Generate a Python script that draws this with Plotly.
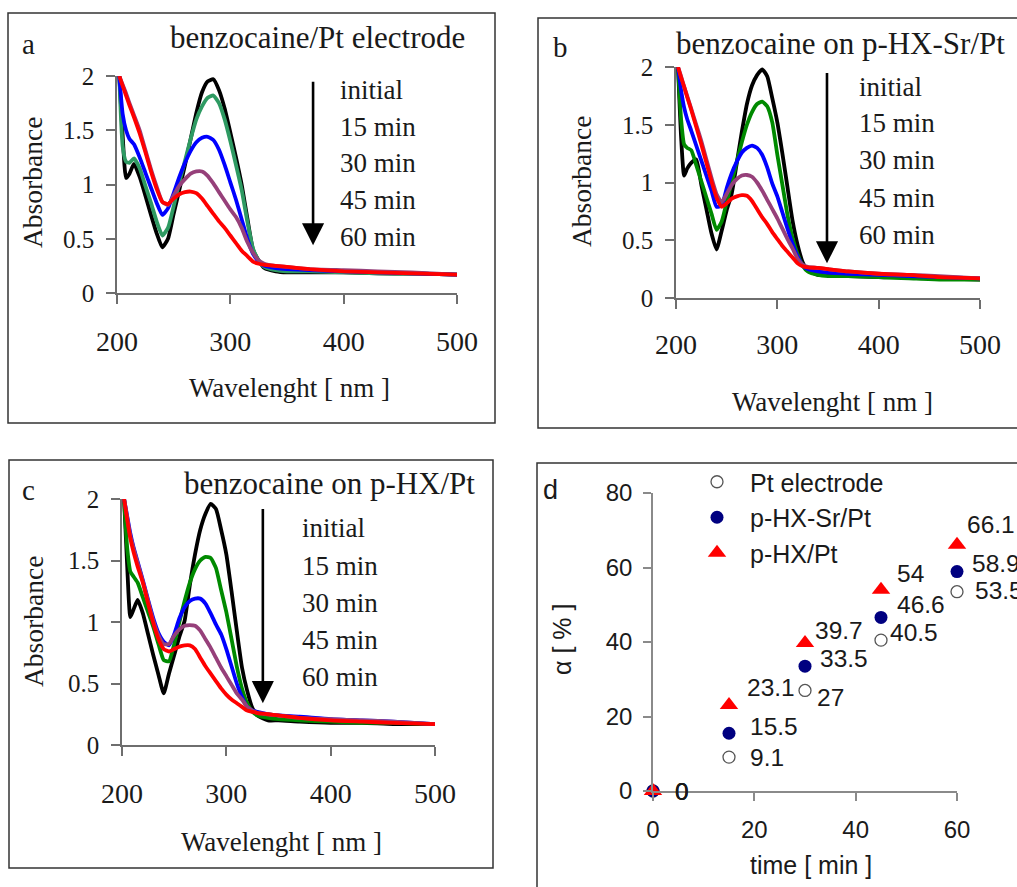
import plotly.graph_objects as go

W, H = 1017, 887

# ---------------- data ----------------
wavelength = [202, 205, 208, 211, 215, 220, 225, 230, 235, 240, 245, 250, 255, 260, 265, 270, 275, 280,
              285, 290, 295, 300, 305, 310, 315, 320, 325, 330, 340, 350, 370, 400, 430, 460, 500]
series_names = ["initial", "15 min", "30 min", "45 min", "60 min"]

a_initial = [2.0, 1.45, 1.06, 1.1, 1.19, 1.07, 0.9, 0.72, 0.55, 0.42, 0.5, 0.73, 0.95, 1.18, 1.42, 1.66, 1.85, 1.95,
             1.97, 1.87, 1.7, 1.48, 1.25, 1.0, 0.69, 0.4, 0.3, 0.23, 0.2, 0.19, 0.19, 0.19, 0.18, 0.18, 0.17]
a_15 = [2.0, 1.35, 1.21, 1.2, 1.24, 1.15, 0.99, 0.83, 0.66, 0.53, 0.6, 0.8, 1.02, 1.22, 1.42, 1.6, 1.72, 1.8,
        1.82, 1.75, 1.6, 1.4, 1.18, 0.95, 0.66, 0.41, 0.3, 0.24, 0.21, 0.2, 0.2, 0.19, 0.18, 0.18, 0.17]
a_30 = [2.0, 1.65, 1.5, 1.42, 1.37, 1.25, 1.11, 0.97, 0.83, 0.72, 0.78, 0.92, 1.07, 1.2, 1.31, 1.39, 1.43, 1.44,
        1.41, 1.32, 1.18, 1.02, 0.86, 0.68, 0.5, 0.36, 0.29, 0.25, 0.23, 0.22, 0.21, 0.2, 0.19, 0.18, 0.17]
a_45 = [2.0, 1.92, 1.84, 1.75, 1.64, 1.5, 1.32, 1.14, 0.98, 0.84, 0.81, 0.9, 0.99, 1.05, 1.1, 1.12, 1.12, 1.08,
        1.01, 0.93, 0.85, 0.77, 0.7, 0.6, 0.47, 0.37, 0.3, 0.27, 0.25, 0.24, 0.22, 0.21, 0.2, 0.19, 0.17]
a_60 = [2.0, 1.91, 1.82, 1.73, 1.62, 1.47, 1.3, 1.12, 0.96, 0.84, 0.82, 0.87, 0.91, 0.93, 0.935, 0.92, 0.87, 0.8,
        0.73, 0.66, 0.6, 0.53, 0.46, 0.39, 0.34, 0.29, 0.27, 0.26, 0.25, 0.24, 0.22, 0.2, 0.19, 0.18, 0.17]

b_initial = [2.0, 1.4, 1.06, 1.12, 1.17, 1.2, 0.98, 0.77, 0.56, 0.42, 0.58, 0.76, 0.905, 1.17, 1.44, 1.68, 1.84, 1.93,
             1.98, 1.92, 1.73, 1.52, 1.25, 0.96, 0.67, 0.46, 0.31, 0.24, 0.2, 0.2, 0.19, 0.18, 0.18, 0.17, 0.16]
b_15 = [2.0, 1.55, 1.33, 1.3, 1.28, 1.15, 1.01, 0.87, 0.73, 0.59, 0.66, 0.83, 1.0, 1.18, 1.35, 1.5, 1.61, 1.68,
        1.7, 1.66, 1.52, 1.24, 0.98, 0.72, 0.52, 0.38, 0.28, 0.23, 0.2, 0.19, 0.19, 0.18, 0.17, 0.16, 0.16]
b_30 = [2.0, 1.8, 1.65, 1.55, 1.45, 1.32, 1.19, 1.06, 0.93, 0.79, 0.8, 0.95, 1.08, 1.18, 1.26, 1.3, 1.32, 1.3,
        1.24, 1.13, 0.99, 0.88, 0.74, 0.6, 0.47, 0.36, 0.28, 0.25, 0.23, 0.22, 0.21, 0.2, 0.19, 0.18, 0.17]
b_45 = [2.0, 1.92, 1.83, 1.75, 1.64, 1.5, 1.36, 1.2, 1.04, 0.9, 0.83, 0.9, 0.98, 1.03, 1.06, 1.065, 1.05, 1.0,
        0.93, 0.85, 0.77, 0.69, 0.6, 0.51, 0.43, 0.34, 0.29, 0.27, 0.26, 0.25, 0.23, 0.21, 0.2, 0.19, 0.17]
b_60 = [2.0, 1.91, 1.83, 1.74, 1.63, 1.48, 1.33, 1.17, 1.01, 0.87, 0.79, 0.82, 0.86, 0.88, 0.89, 0.885, 0.84, 0.77,
        0.7, 0.64, 0.57, 0.51, 0.45, 0.4, 0.35, 0.3, 0.275, 0.265, 0.26, 0.25, 0.23, 0.21, 0.2, 0.18, 0.17]

c_initial = [2.0, 1.45, 1.04, 1.1, 1.18, 1.07, 0.9, 0.73, 0.57, 0.42, 0.58, 0.73, 0.88, 1.01, 1.3, 1.55, 1.75, 1.88,
             1.96, 1.92, 1.75, 1.55, 1.25, 0.93, 0.63, 0.44, 0.3, 0.24, 0.2, 0.2, 0.19, 0.18, 0.18, 0.17, 0.17]
c_15 = [2.0, 1.6, 1.41, 1.37, 1.32, 1.2, 1.08, 0.96, 0.82, 0.69, 0.68, 0.82, 1.0, 1.17, 1.32, 1.43, 1.5, 1.53,
        1.52, 1.44, 1.26, 1.08, 0.86, 0.64, 0.46, 0.34, 0.27, 0.24, 0.22, 0.21, 0.2, 0.19, 0.18, 0.18, 0.17]
c_30 = [2.0, 1.86, 1.72, 1.61, 1.49, 1.34, 1.18, 1.03, 0.91, 0.84, 0.81, 0.9, 1.03, 1.12, 1.17, 1.19, 1.19, 1.15,
        1.07, 0.98, 0.9, 0.78, 0.64, 0.5, 0.39, 0.31, 0.28, 0.27, 0.25, 0.24, 0.23, 0.21, 0.2, 0.19, 0.17]
c_45 = [2.0, 1.85, 1.7, 1.6, 1.48, 1.33, 1.17, 1.01, 0.89, 0.82, 0.82, 0.89, 0.94, 0.97, 0.975, 0.97, 0.93, 0.86,
        0.79, 0.71, 0.63, 0.56, 0.49, 0.42, 0.37, 0.31, 0.28, 0.26, 0.25, 0.24, 0.22, 0.21, 0.2, 0.19, 0.17]
c_60 = [2.0, 1.83, 1.68, 1.57, 1.45, 1.32, 1.15, 0.99, 0.86, 0.78, 0.76, 0.78, 0.8, 0.81, 0.81, 0.78, 0.71, 0.64,
        0.58, 0.52, 0.46, 0.41, 0.37, 0.34, 0.31, 0.28, 0.27, 0.26, 0.25, 0.24, 0.22, 0.2, 0.19, 0.18, 0.17]

times = [0, 15, 30, 45, 60]
alpha_pt = [0, 9.1, 27, 40.5, 53.5]
alpha_hxsr = [0, 15.5, 33.5, 46.6, 58.9]
alpha_hx = [0, 23.1, 39.7, 54, 66.1]
d_series_names = ["Pt electrode", "p-HX-Sr/Pt", "p-HX/Pt"]

x_ticks_spec = [200, 300, 400, 500]
y_ticks_spec = [0, 0.5, 1, 1.5, 2]
y_ticktext_spec = ["0", "0.5", "1", "1.5", "2"]
x_ticks_d = [0, 20, 40, 60]
y_ticks_d = [0, 20, 40, 60, 80]

# ---------------- styling ----------------
SERIF = "Liberation Serif"
SANS = "Liberation Sans"
AXCOL = "#6e6e6e"
TXT = "#1a1a1a"


def px(x):
    return x / W


def py(y):
    return 1 - y / H


fig = go.Figure()

panels = [
    ("x", "y", [a_initial, a_15, a_30, a_45, a_60],
     ["#000000", "#2e9a62", "#0000ff", "#96407a", "#ff0000"]),
    ("x2", "y2", [b_initial, b_15, b_30, b_45, b_60],
     ["#000000", "#008a00", "#0000ff", "#96407a", "#ff0000"]),
    ("x3", "y3", [c_initial, c_15, c_30, c_45, c_60],
     ["#000000", "#008a00", "#0000ff", "#96407a", "#ff0000"]),
]
for xa, ya, series, cols in panels:
    for name, vals, col in zip(series_names, series, cols):
        fig.add_trace(go.Scatter(
            x=wavelength, y=vals, mode="lines", name=name, showlegend=False,
            line=dict(color=col, width=3.8, shape="spline", smoothing=0.5),
            xaxis=xa, yaxis=ya, hoverinfo="skip"))

# panel d points
fig.add_trace(go.Scatter(x=times, y=alpha_pt, mode="markers", name=d_series_names[0],
                         marker=dict(symbol="circle-open", size=12, color="#555555", line=dict(width=1.3)),
                         xaxis="x4", yaxis="y4", cliponaxis=False))
fig.add_trace(go.Scatter(x=times, y=alpha_hxsr, mode="markers", name=d_series_names[1],
                         marker=dict(symbol="circle", size=13, color="#000080"),
                         xaxis="x4", yaxis="y4", cliponaxis=False))
fig.add_trace(go.Scatter(x=times, y=alpha_hx, mode="markers", name=d_series_names[2],
                         marker=dict(symbol="triangle-up", size=16, color="#ff0000"),
                         xaxis="x4", yaxis="y4", cliponaxis=False))

# ---------------- axes ----------------
def spec_x(dom, standoff):
    return dict(domain=dom, range=[200, 500], tickvals=x_ticks_spec, showgrid=False, zeroline=False,
                showline=True, linecolor=AXCOL, linewidth=1.5, ticks="outside", ticklen=9, tickwidth=1.5,
                tickcolor=AXCOL, tickfont=dict(family=SERIF, size=28, color=TXT),
                ticklabelstandoff=standoff, fixedrange=True)


def spec_y(dom, anchor):
    return dict(domain=dom, range=[0, 2], tickvals=y_ticks_spec, ticktext=y_ticktext_spec, showgrid=False,
                zeroline=False, showline=True, linecolor=AXCOL, linewidth=1.5, ticks="outside", ticklen=9,
                tickwidth=1.5, tickcolor=AXCOL, tickfont=dict(family=SERIF, size=25, color=TXT),
                ticklabelstandoff=7, anchor=anchor, fixedrange=True)


layout = dict(
    width=W, height=H, margin=dict(l=0, r=0, t=0, b=0, autoexpand=False),
    paper_bgcolor="white", plot_bgcolor="white",
    xaxis=dict(**spec_x([px(117), px(457)], 14), anchor="y"),
    yaxis=spec_y([py(293), py(76)], "x"),
    xaxis2=dict(**spec_x([px(676), px(980)], 12), anchor="y2"),
    yaxis2=spec_y([py(298), py(67)], "x2"),
    xaxis3=dict(**spec_x([px(122), px(435)], 14), anchor="y3"),
    yaxis3=spec_y([py(745), py(499)], "x3"),
    xaxis4=dict(domain=[px(653), px(957)], range=[0, 60], tickvals=x_ticks_d, showgrid=False, zeroline=False,
                showline=True, linecolor="#8a8a8a", linewidth=1.5, ticks="outside", ticklen=8, tickwidth=1.5,
                tickcolor="#8a8a8a", tickfont=dict(family=SANS, size=24, color=TXT),
                ticklabelstandoff=8, anchor="y4", fixedrange=True),
    yaxis4=dict(domain=[py(791), py(493)], range=[0, 80], tickvals=y_ticks_d, showgrid=False, zeroline=False,
                showline=True, linecolor="#8a8a8a", linewidth=1.5, ticks="outside", ticklen=8, tickwidth=1.5,
                tickcolor="#8a8a8a", tickfont=dict(family=SANS, size=24, color=TXT),
                ticklabelstandoff=6, anchor="x4", fixedrange=True),
    showlegend=True,
    legend=dict(x=px(684), y=py(459), xanchor="left", yanchor="top", bgcolor="rgba(0,0,0,0)",
                font=dict(family=SANS, size=25, color=TXT), itemwidth=56, tracegroupgap=0),
)
fig.update_layout(**layout)

# ---------------- frames ----------------
frames = [(8, 13, 495, 423), (538, 18, 1040, 428), (9, 460, 493, 868), (537, 463, 1040, 910)]
for x0, y0, x1, y1 in frames:
    fig.add_shape(type="rect", xref="paper", yref="paper", x0=px(x0), x1=px(x1), y0=py(y1), y1=py(y0),
                  line=dict(color="#333333", width=1.5), fillcolor="rgba(0,0,0,0)", layer="below")

ann = []
# panel letters and titles
for letter, (lx, ly) in zip("abcd", [(28, 44), (560, 47), (28, 490), (550, 490)]):
    ann.append(dict(text=letter, x=px(lx), y=py(ly), xref="paper", yref="paper", showarrow=False,
                    xanchor="center", yanchor="middle",
                    font=dict(family=SERIF if letter != "d" else SANS, size=29 if letter != "d" else 27,
                              color=TXT)))
for t, (rx, cy) in zip(["benzocaine/Pt electrode", "benzocaine on p-HX-Sr/Pt", "benzocaine on p-HX/Pt"],
                       [(467, 37), (1007, 43), (477, 483)]):
    ann.append(dict(text=t, x=px(rx), y=py(cy), xref="paper", yref="paper", showarrow=False,
                    xanchor="right", yanchor="middle", font=dict(family=SERIF, size=31, color=TXT)))

# axis titles
for t, (cx, cy) in zip(["Wavelenght [ nm ]"] * 3, [(289, 388), (832, 402), (281, 842)]):
    ann.append(dict(text=t, x=px(cx), y=py(cy), xref="paper", yref="paper", showarrow=False,
                    xanchor="center", yanchor="middle", font=dict(family=SERIF, size=27, color=TXT)))
for (cx, cy) in [(32, 183), (582, 182), (33, 622)]:
    ann.append(dict(text="Absorbance", x=px(cx), y=py(cy), xref="paper", yref="paper", showarrow=False,
                    textangle=-90, xanchor="center", yanchor="middle",
                    font=dict(family=SERIF, size=27.5, color=TXT)))
ann.append(dict(text="time [ min ]", x=px(811), y=py(865), xref="paper", yref="paper", showarrow=False,
                xanchor="center", yanchor="middle", font=dict(family=SANS, size=25, color=TXT)))
ann.append(dict(text="α [ % ]", x=px(562), y=py(640), xref="paper", yref="paper", showarrow=False,
                textangle=-90, xanchor="center", yanchor="middle", font=dict(family=SANS, size=25, color=TXT)))

# arrows and time labels in spectra panels
arrow_spec = [("x", "y", 373, 0.44, 1.96, 395, [1.87, 1.53, 1.2, 0.857, 0.516]),
              ("x2", "y2", 349, 0.30, 1.96, 378.6, [1.827, 1.515, 1.195, 0.866, 0.545]),
              ("x3", "y3", 335, 0.34, 1.93, 370.6, [1.764, 1.455, 1.154, 0.854, 0.553])]
for xa, ya, ax_x, tip, top, lab_x, lab_ys in arrow_spec:
    ann.append(dict(text="", x=ax_x, y=tip, ax=ax_x, ay=top, xref=xa, yref=ya, axref=xa, ayref=ya,
                    showarrow=True, arrowhead=2, arrowsize=1.7, arrowwidth=2.6, arrowcolor="#000000"))
    for name, ly in zip(series_names, lab_ys):
        ann.append(dict(text=name, x=lab_x, y=ly, xref=xa, yref=ya, showarrow=False, xanchor="left",
                        yanchor="middle", font=dict(family=SERIF, size=27, color=TXT)))

# data labels in panel d
offsets = {
    0: [(20, 0), (19, 0), (10, -7), (7, 8), (16, 1)],
    1: [(20, 0), (19, 7), (13, 8), (14, 13), (13, 8)],
    2: [(20, 0), (16, 17), (8, 13), (14, 16), (8, 20)],
}
for si, vals in enumerate([alpha_pt, alpha_hxsr, alpha_hx]):
    for (t, v), (dx, dy) in zip(zip(times, vals), offsets[si]):
        ann.append(dict(text=f"{v:g}", x=t, y=v, xref="x4", yref="y4", showarrow=False, xanchor="left",
                        yanchor="middle", xshift=dx, yshift=dy,
                        font=dict(family=SANS, size=24.5, color=TXT)))

fig.update_layout(annotations=ann)
fig.write_html("out.html", config={"displayModeBar": False},
               post_script="document.body.style.margin='0';document.body.style.overflow='hidden';"
                           "document.documentElement.style.overflow='hidden';")
